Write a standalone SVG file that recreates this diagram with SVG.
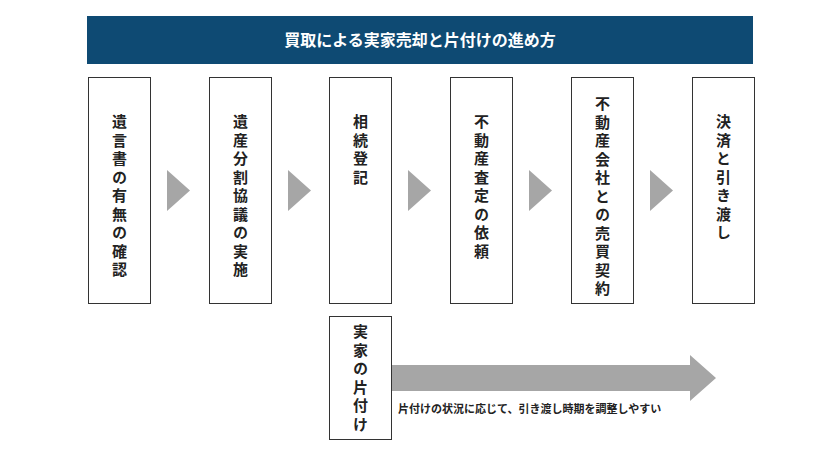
<svg xmlns="http://www.w3.org/2000/svg" width="840" height="456" viewBox="0 0 840 456">
<style>
.box{fill:#fff;stroke:#333;stroke-width:1}
.vt{font-family:"Noto Sans CJK JP",sans-serif;font-size:15px;font-weight:bold;fill:#222;writing-mode:vertical-rl;text-orientation:upright;letter-spacing:3.5px}
.tri{fill:#a6a6a6}
</style>
<rect width="840" height="456" fill="#fff"/>
<g id="title">
<rect x="87" y="16" width="666" height="48" fill="#0e4a73"/>
<text x="420" y="46" text-anchor="middle" font-family="Noto Sans CJK JP,sans-serif" font-size="16" font-weight="bold" fill="#fff">買取による実家売却と片付けの進め方</text>
</g>
<g id="n1"><rect class="box" x="88.5" y="77.5" width="62" height="226"/><text class="vt" x="119.5" y="114">遺言書の有無の確認</text></g>
<g id="n2"><rect class="box" x="209.5" y="77.5" width="62" height="226"/><text class="vt" x="240.5" y="114">遺産分割協議の実施</text></g>
<g id="n3"><rect class="box" x="329.5" y="77.5" width="62" height="226"/><text class="vt" x="360.5" y="114">相続登記</text></g>
<g id="n4"><rect class="box" x="450.5" y="77.5" width="62" height="226"/><text class="vt" x="481.5" y="114">不動産査定の依頼</text></g>
<g id="n5"><rect class="box" x="571.5" y="77.5" width="62" height="226"/><text class="vt" x="602.5" y="96">不動産会社との売買契約</text></g>
<g id="n6"><rect class="box" x="692.5" y="77.5" width="62" height="226"/><text class="vt" x="723.5" y="114">決済と引き渡し</text></g>
<g id="n7"><rect class="box" x="329.5" y="316.5" width="62" height="123"/><text class="vt" x="360.5" y="324">実家の片付け</text></g>
<g id="connectors">
<polygon class="tri" points="167,170 190,190.5 167,211"/>
<polygon class="tri" points="288,170 311,190.5 288,211"/>
<polygon class="tri" points="408,170 431,190.5 408,211"/>
<polygon class="tri" points="529,170 552,190.5 529,211"/>
<polygon class="tri" points="650,170 673,190.5 650,211"/>
<polygon class="tri" points="392,365 690,365 690,355 716,378 690,401 690,391 392,391"/>
</g>
<text x="398" y="413" font-family="Noto Sans CJK JP,sans-serif" font-size="11" font-weight="bold" fill="#222">片付けの状況に応じて、引き渡し時期を調整しやすい</text>
</svg>
